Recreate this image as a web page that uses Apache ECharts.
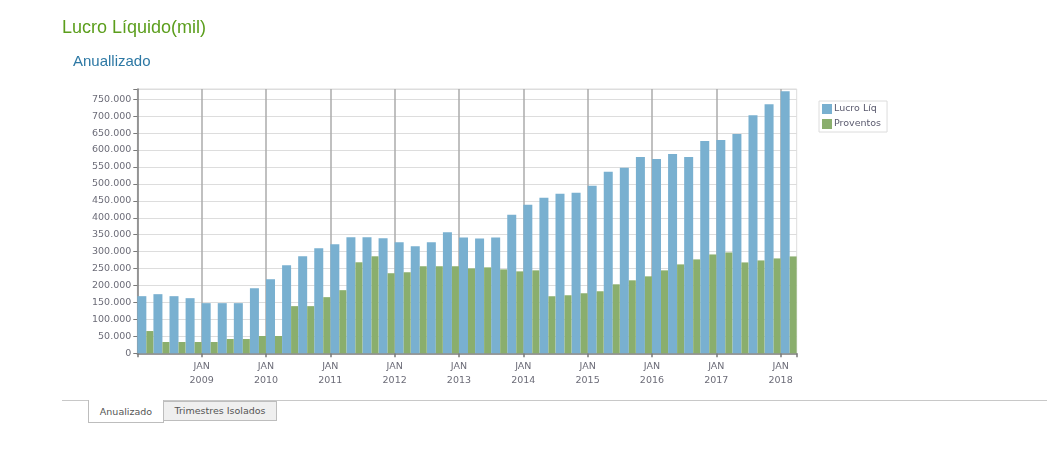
<!DOCTYPE html>
<html>
<head>
<meta charset="utf-8">
<script src="https://cdn.jsdelivr.net/npm/echarts@6/dist/echarts.min.js"></script>
<style>
  html, body { margin: 0; padding: 0; background: #fff; }
  #wrap { position: relative; width: 1055px; height: 458px; overflow: hidden; }
  #chart { position: absolute; left: 0; top: 0; width: 1055px; height: 458px; }
  .tabline { position: absolute; left: 62px; top: 400px; width: 985px; height: 0; border-top: 1px solid #c8c8c8; }
  .tab { position: absolute; font-family: "DejaVu Sans", Verdana, sans-serif; font-size: 9.5px; color: #555; text-align: center; box-sizing: border-box; }
  .tab.active { left: 88px; top: 400px; width: 76px; height: 23px; background: #fff; border: 1px solid #bdbdbd; border-top: none; line-height: 23px; }
  .tab.inactive { left: 163px; top: 401px; width: 114px; height: 20px; background: #efefef; border: 1px solid #bdbdbd; line-height: 18px; }
</style>
</head>
<body>
<div id="wrap">
  <div id="chart"></div>
  <div class="tabline"></div>
  <div class="tab active">Anualizado</div>
  <div class="tab inactive">Trimestres Isolados</div>
</div>
<script>
// Quarterly categories (1T08 .. 1T18)
const categories = ['1T08','2T08','3T08','4T08','1T09','2T09','3T09','4T09','1T10','2T10','3T10','4T10',
  '1T11','2T11','3T11','4T11','1T12','2T12','3T12','4T12','1T13','2T13','3T13','4T13','1T14','2T14','3T14','4T14',
  '1T15','2T15','3T15','4T15','1T16','2T16','3T16','4T16','1T17','2T17','3T17','4T17','1T18'];
const lucroLiq = [168600,174500,168600,162700,148000,148000,148000,192000,218600,259800,
  286300,309800,321600,342200,342200,339200,327500,315700,327500,356900,
  341700,338700,341700,409200,438600,459200,470900,473800,494400,535500,
  547300,579600,573700,588400,579600,626600,629500,647100,702900,735200,773400];
const proventos = [65700,33300,33300,33300,33300,42200,42200,51000,51000,139200,
  139200,165700,186300,268600,286300,236300,239200,256900,256900,256900,
  250600,253600,247700,241800,244800,168400,171300,177200,183100,203600,
  215400,227100,244800,262400,277100,291700,297600,268200,274100,280000,285900];
// Year labels placed at each January boundary (every 4 quarters, starting at 4)
const yearLabels = ['JAN\n2009','JAN\n2010','JAN\n2011','JAN\n2012','JAN\n2013',
  'JAN\n2014','JAN\n2015','JAN\n2016','JAN\n2017','JAN\n2018'];
const yMax = 780000;
const yStep = 50000;

const chart = echarts.init(document.getElementById('chart'), null, { renderer: 'canvas' });
const fmt = v => String(v).replace(/\B(?=(\d{3})+(?!\d))/g, '.');
const labelFont = { fontFamily: 'DejaVu Sans', fontSize: 9.5, color: '#6c6c78' };

chart.setOption({
  animation: false,
  title: [
    { text: 'Lucro Líquido(mil)', left: 62, top: 19, padding: 0,
      textStyle: { fontFamily: 'Liberation Sans', fontSize: 18, fontWeight: 'normal', color: '#5b9e1c' } },
    { text: 'Anuallizado', left: 73, top: 54, padding: 0,
      textStyle: { fontFamily: 'Liberation Sans', fontSize: 15, fontWeight: 'normal', color: '#2d78a4' } }
  ],
  legend: {
    orient: 'vertical', left: 819, top: 101, padding: [3, 6, 3, 3],
    itemWidth: 10, itemHeight: 10, itemGap: 5, icon: 'rect',
    borderColor: '#dcdcdc', borderWidth: 1,
    textStyle: { fontFamily: 'DejaVu Sans', fontSize: 9.5, color: '#5a5a6e', padding: [0, 0, 0, -3] },
    data: ['Lucro Líq', 'Proventos']
  },
  grid: { left: 137.3, right: 258.3, top: 89, bottom: 104.7, show: true, borderColor: '#dddddd', borderWidth: 1 },
  xAxis: [
    { type: 'category', data: categories, position: 'bottom', show: false, boundaryGap: true },
    { type: 'value', min: 0, max: categories.length, interval: 4, position: 'bottom',
      axisLine: { show: true, lineStyle: { color: '#7a7a7a', width: 1.5 } },
      axisTick: { show: true, length: 4, lineStyle: { color: '#7a7a7a', width: 1.5 } },
      axisLabel: { ...labelFont, lineHeight: 14, margin: 6,
        formatter: v => (v > 0 && v % 4 === 0 && v / 4 - 1 < yearLabels.length) ? yearLabels[v / 4 - 1] : '' },
      splitLine: { show: true, showMinLine: false, showMaxLine: false, lineStyle: { color: '#ababab', width: 1.5 } }
    }
  ],
  yAxis: {
    type: 'value', min: 0, max: yMax, interval: yStep,
    axisLine: { show: true, lineStyle: { color: '#7a7a7a', width: 1.5 } },
    axisTick: { show: true, length: 4, lineStyle: { color: '#7a7a7a' } },
    axisLabel: { ...labelFont, margin: 6, formatter: v => (v % yStep === 0 ? fmt(v) : '') },
    splitLine: { show: true, lineStyle: { color: '#dddddd', width: 1 } }
  },
  series: [
    { name: 'Lucro Líq', type: 'bar', xAxisIndex: 0, data: lucroLiq, barWidth: 9, barGap: 0,
      itemStyle: { color: '#79b0d0' } },
    { name: 'Proventos', type: 'bar', xAxisIndex: 0, data: proventos, barWidth: 7, barGap: 0,
      itemStyle: { color: '#8aae6d' } }
  ]
});
</script>
</body>
</html>
